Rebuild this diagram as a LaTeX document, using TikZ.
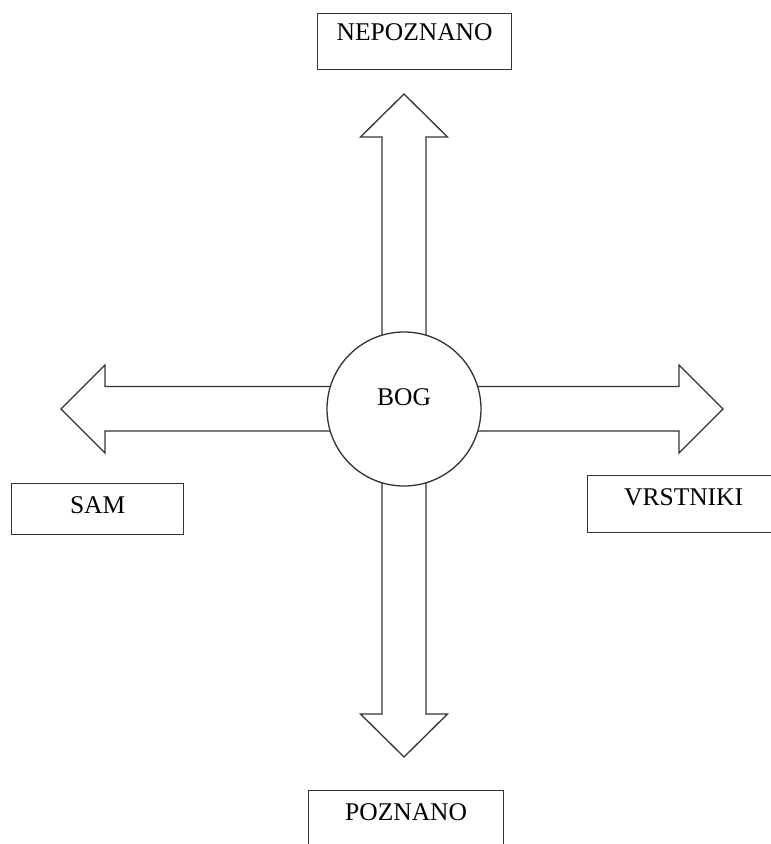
\documentclass[tikz,border=0pt]{standalone}
\usepackage{fontspec}
\setmainfont{Liberation Serif}
\usetikzlibrary{calc}
\definecolor{ink}{HTML}{333333}
\tikzset{
  outline/.style={draw=ink, line width=1.3pt},
  labelbox/.style={outline, rectangle, inner sep=0pt, align=center,
    font=\fontsize{25.5}{28}\selectfont},
  hub/.style={outline, circle, fill=white, minimum size=154pt, inner sep=0pt,
    font=\fontsize{25.5}{28}\selectfont},
  blockarrow/.style={outline, line join=miter, fill=white}
}
\begin{document}
\begin{tikzpicture}[x=1pt, y=-1pt]
  \useasboundingbox (0,0) rectangle (771,844);

  % block arrows, drawn first so the circle covers their inner ends
  \coordinate (c) at (404,409);
  % up
  \draw[blockarrow] ($(c)+(-22,0)$) -- ($(c)+(-22,-272)$) -- ($(c)+(-43.5,-272)$)
    -- ($(c)+(0,-315)$) -- ($(c)+(43.5,-272)$) -- ($(c)+(22,-272)$) -- ($(c)+(22,0)$);
  % down
  \draw[blockarrow] ($(c)+(-22,0)$) -- ($(c)+(-22,305)$) -- ($(c)+(-43.5,305)$)
    -- ($(c)+(0,348)$) -- ($(c)+(43.5,305)$) -- ($(c)+(22,305)$) -- ($(c)+(22,0)$);
  % left
  \draw[blockarrow] ($(c)+(0,-22.5)$) -- ($(c)+(-299,-22.5)$) -- ($(c)+(-299,-44)$)
    -- ($(c)+(-343,0)$) -- ($(c)+(-299,44)$) -- ($(c)+(-299,22)$) -- ($(c)+(0,22)$);
  % right
  \draw[blockarrow] ($(c)+(0,-22.5)$) -- ($(c)+(275,-22.5)$) -- ($(c)+(275,-44)$)
    -- ($(c)+(319,0)$) -- ($(c)+(275,44)$) -- ($(c)+(275,22)$) -- ($(c)+(0,22)$);

  % centre
  \node[hub, text height=0pt, text depth=0pt] (bog) at (c) {\raisebox{4pt}{BOG}};

  % label boxes
  \node[labelbox, text width=194pt, text height=27pt, text depth=29pt,
    anchor=north west] (nepoznano) at (317,13) {NEPOZNANO};
  \node[labelbox, text width=172pt, text height=29.5pt, text depth=21.5pt,
    anchor=north west] (sam) at (11,483) {SAM};
  \node[labelbox, text width=192pt, text height=29.5pt, text depth=27.5pt,
    anchor=north west] (vrstniki) at (587,475) {VRSTNIKI};
  \node[labelbox, text width=195pt, text height=29.5pt, text depth=40pt,
    anchor=north west] (poznano) at (308,790) {POZNANO};
\end{tikzpicture}
\end{document}
